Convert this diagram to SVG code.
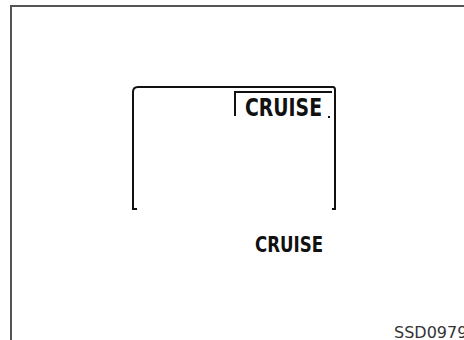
<svg xmlns="http://www.w3.org/2000/svg" width="464" height="340" viewBox="0 0 464 340">
<style>
.frame{fill:none;stroke:#555;stroke-width:2}
.ln{fill:none;stroke:#111;stroke-width:2;stroke-linecap:square}
.disp{font-family:"DejaVu Sans Condensed","DejaVu Sans",sans-serif;font-weight:bold;fill:#111}
.ref{font-family:"DejaVu Sans",sans-serif;fill:#333}
</style>
<rect width="464" height="340" fill="#fff"/>
<path class="frame" d="M11 340 V6 H464"/>
<g id="display">
<path class="ln" d="M133 209 V92 Q133 87 138 87 H333 Q335 87 335 90 V209"/>
<path class="ln" d="M135 209 h1 M333 209 h1"/>
<path class="ln" d="M235 115 V92 H331"/>
<text class="disp" x="245" y="116" font-size="24" textLength="77" lengthAdjust="spacingAndGlyphs">CRUISE</text>
<rect x="328" y="116" width="2" height="2" fill="#111"/>
</g>
<g id="label">
<text class="disp" x="255" y="252" font-size="21" textLength="68" lengthAdjust="spacingAndGlyphs">CRUISE</text>
</g>
<text class="ref" x="394" y="338" font-size="16">SSD0979</text>
</svg>
